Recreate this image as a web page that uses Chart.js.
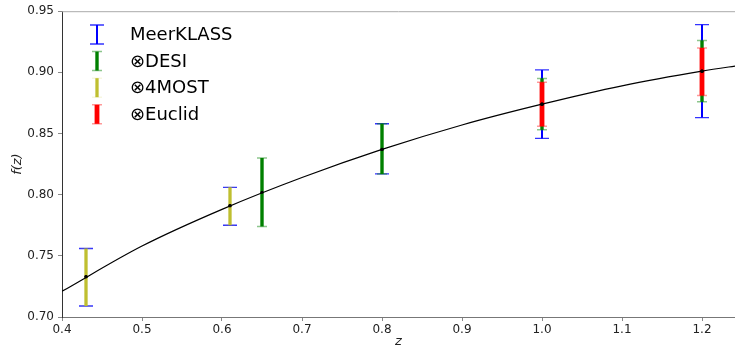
<!DOCTYPE html>
<html>
<head>
<meta charset="utf-8">
<script src="https://cdn.jsdelivr.net/npm/chart.js@4"></script>
<style>
  html, body { margin: 0; padding: 0; background: #fff; }
  #wrap { width: 735px; height: 349px; position: relative; }
</style>
</head>
<body>
<div id="wrap"><canvas id="c" width="735" height="349"></canvas></div>
<script>
// ---- data ----
const seriesNames = ['MeerKLASS', '\u2297DESI', '\u22974MOST', '\u2297Euclid'];

const meerZ  = [0.43, 0.61, 0.80, 1.00, 1.20];
const meerF  = [0.733, 0.791, 0.837, 0.874, 0.901];
const meerLo = [0.709, 0.775, 0.817, 0.846, 0.863];
const meerHi = [0.756, 0.806, 0.858, 0.902, 0.939];

const desiZ  = [0.65, 0.80, 1.00, 1.20];
const desiF  = [0.802, 0.837, 0.874, 0.901];
const desiLo = [0.774, 0.817, 0.853, 0.876];
const desiHi = [0.830, 0.858, 0.895, 0.926];

const mostZ  = [0.43, 0.61];
const mostF  = [0.733, 0.791];
const mostLo = [0.709, 0.775];
const mostHi = [0.756, 0.806];

const euclidZ  = [1.00, 1.20];
const euclidF  = [0.874, 0.901];
const euclidLo = [0.856, 0.881];
const euclidHi = [0.892, 0.920];

const curveZ = [0.40, 0.50, 0.60, 0.70, 0.80, 0.90, 1.00, 1.10, 1.20, 1.25];
const curveF = [0.721, 0.758, 0.788, 0.814, 0.837, 0.857, 0.874, 0.889, 0.901, 0.906];

const xTicks = [0.4, 0.5, 0.6, 0.7, 0.8, 0.9, 1.0, 1.1, 1.2];
const yTicks = [0.70, 0.75, 0.80, 0.85, 0.90, 0.95];

// ---- styles ----
const styles = [
  { color: '#0000ff', lw: 2,   capHalf: 7, capColor: 'rgba(0,0,255,0.8)',  capW: 1.3 },
  { color: '#008000', lw: 3.4, capHalf: 5, capColor: 'rgba(0,128,0,0.45)', capW: 1.5 },
  { color: '#bfbf30', lw: 3.3, capHalf: 5, capColor: 'rgba(191,191,0,0.12)', capW: 1.5 },
  { color: '#ff0000', lw: 4.8, capHalf: 5, capColor: 'rgba(255,0,0,0.4)',  capW: 1.5 }
];

const pts = (zs, fs) => zs.map((z, i) => ({ x: z, y: fs[i] }));

const errSets = [
  { z: meerZ, f: meerF, lo: meerLo, hi: meerHi },
  { z: desiZ, f: desiF, lo: desiLo, hi: desiHi },
  { z: mostZ, f: mostF, lo: mostLo, hi: mostHi },
  { z: euclidZ, f: euclidF, lo: euclidLo, hi: euclidHi }
];

const FONT = "'DejaVu Sans', 'Liberation Sans', sans-serif";

const errorBarPlugin = {
  id: 'errorBars',
  beforeDatasetsDraw(chart) {
    const ctx = chart.ctx, xs = chart.scales.x, ys = chart.scales.y;
    const a = chart.chartArea;
    ctx.save();
    ctx.beginPath();
    ctx.rect(a.left, a.top, a.right - a.left, a.bottom - a.top);
    ctx.clip();
    errSets.forEach((s, k) => {
      const st = styles[k];
      s.z.forEach((z, i) => {
        const px = xs.getPixelForValue(z);
        const pLo = ys.getPixelForValue(s.lo[i]);
        const pHi = ys.getPixelForValue(s.hi[i]);
        ctx.strokeStyle = st.color;
        ctx.lineWidth = st.lw;
        ctx.lineCap = 'butt';
        ctx.beginPath();
        ctx.moveTo(px, pLo); ctx.lineTo(px, pHi);
        ctx.stroke();
        ctx.strokeStyle = st.capColor;
        ctx.lineWidth = st.capW;
        ctx.beginPath();
        ctx.moveTo(px - st.capHalf, pLo); ctx.lineTo(px + st.capHalf, pLo);
        ctx.moveTo(px - st.capHalf, pHi); ctx.lineTo(px + st.capHalf, pHi);
        ctx.stroke();
      });
    });
    ctx.restore();
  },
  afterDraw(chart) {
    const ctx = chart.ctx, a = chart.chartArea;
    ctx.save();
    // top spine
    ctx.strokeStyle = '#aaaaaa';
    ctx.lineWidth = 1;
    ctx.beginPath();
    ctx.moveTo(a.left, a.top + 0.5); ctx.lineTo(a.right, a.top + 0.5);
    ctx.stroke();
    // legend
    const iconX = 97, textX = 130, y0 = 34.5, dy = 26.6, half = 9.5;
    seriesNames.forEach((name, k) => {
      const st = styles[k];
      const cy = y0 + k * dy;
      ctx.strokeStyle = st.color;
      ctx.lineWidth = st.lw;
      ctx.beginPath();
      ctx.moveTo(iconX, cy - half); ctx.lineTo(iconX, cy + half);
      ctx.stroke();
      ctx.strokeStyle = st.capColor;
      ctx.lineWidth = st.capW;
      ctx.beginPath();
      ctx.moveTo(iconX - st.capHalf, cy - half); ctx.lineTo(iconX + st.capHalf, cy - half);
      ctx.moveTo(iconX - st.capHalf, cy + half); ctx.lineTo(iconX + st.capHalf, cy + half);
      ctx.stroke();
      ctx.fillStyle = '#000';
      ctx.font = '18px ' + FONT;
      ctx.textBaseline = 'middle';
      ctx.textAlign = 'left';
      ctx.fillText(name, textX, cy + 1);
    });
    ctx.restore();
  }
};

const centerPts = [];
errSets.forEach(s => s.z.forEach((z, i) => centerPts.push({ x: z, y: s.f[i] })));

new Chart(document.getElementById('c'), {
  type: 'scatter',
  data: {
    datasets: [
      {
        label: 'centres',
        data: centerPts,
        pointRadius: 1.6,
        pointBackgroundColor: '#000',
        pointBorderWidth: 0,
        showLine: false
      },
      {
        label: 'fiducial',
        type: 'line',
        data: pts(curveZ, curveF),
        borderColor: '#000',
        borderWidth: 1.2,
        pointRadius: 0,
        fill: false,
        cubicInterpolationMode: 'monotone'
      }
    ]
  },
  options: {
    responsive: false,
    animation: false,
    events: [],
    layout: { padding: { left: 0, right: 0, top: 11, bottom: 0 }, autoPadding: false },
    plugins: { legend: { display: false }, tooltip: { enabled: false } },
    scales: {
      x: {
        type: 'linear',
        min: 0.4,
        max: 0.4 + 673 / 800,
        afterFit(s) { s.height = 32; },
        afterBuildTicks(s) { s.ticks = xTicks.map(v => ({ value: v })); },
        ticks: {
          color: '#222',
          font: { family: FONT, size: 12 },
          padding: 2,
          maxRotation: 0,
          callback: v => v.toFixed(1)
        },
        grid: { drawOnChartArea: false, drawTicks: true, tickLength: 4, color: '#888', tickColor: '#888' },
        border: { display: true, color: '#777', width: 1 },
        title: {
          display: true, text: 'z', color: '#222',
          font: { family: FONT, size: 13, style: 'italic' },
          padding: { top: 0, bottom: 0 }
        }
      },
      y: {
        type: 'linear',
        min: 0.70,
        max: 0.95,
        afterFit(s) { s.width = 62; },
        afterBuildTicks(s) { s.ticks = yTicks.map(v => ({ value: v })); },
        ticks: {
          color: '#222',
          font: { family: FONT, size: 12 },
          padding: 4,
          callback: v => v.toFixed(2)
        },
        grid: { drawOnChartArea: false, drawTicks: true, tickLength: 4, color: '#888', tickColor: '#888' },
        border: { display: true, color: '#333', width: 1 },
        title: {
          display: true, text: 'f(z)', color: '#222',
          font: { family: FONT, size: 13, style: 'italic' },
          padding: { top: 10, bottom: 0 }
        }
      }
    }
  },
  plugins: [errorBarPlugin]
});
</script>
</body>
</html>
